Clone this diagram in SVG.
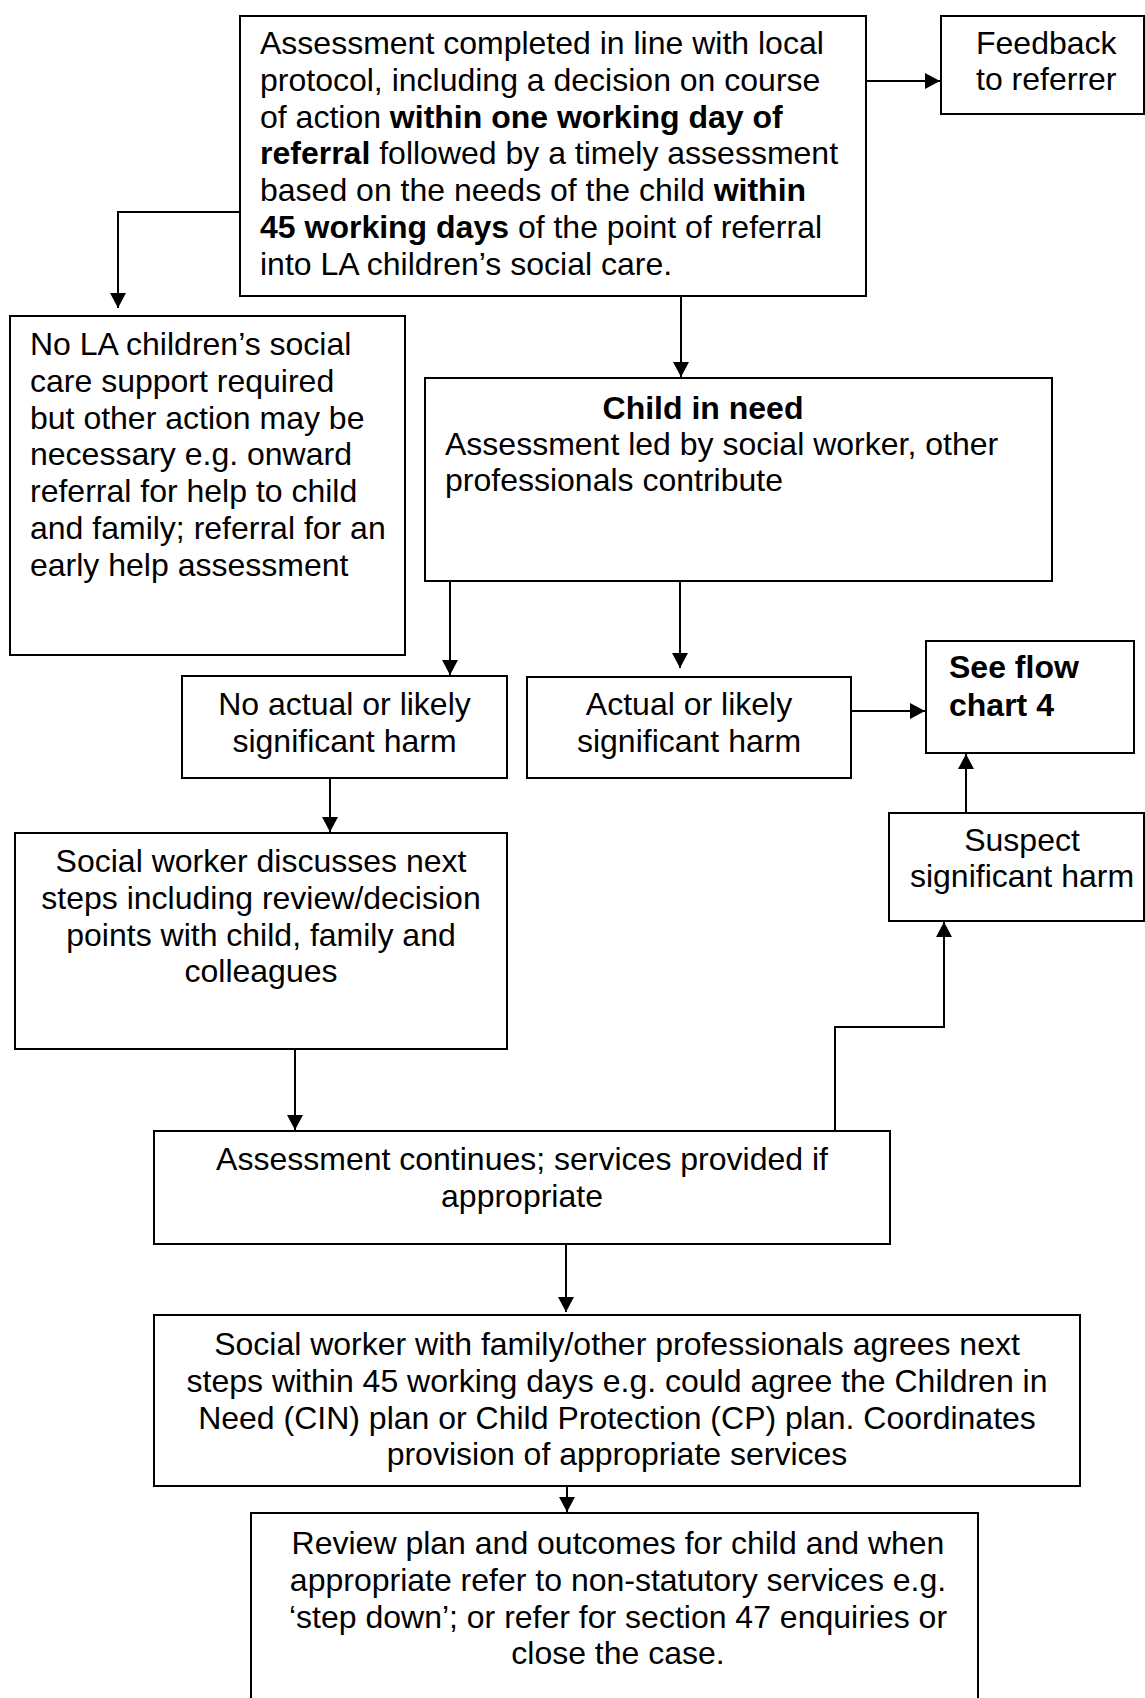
<svg xmlns="http://www.w3.org/2000/svg" width="1145" height="1698" viewBox="0 0 1145 1698">
<defs>
<style>
.box{fill:#fff;stroke:#000;stroke-width:2}
.t{font-family:"Liberation Sans",Arial,sans-serif;font-size:32px;fill:#000}
.c{text-anchor:middle}
.b{font-weight:bold}
.conn{fill:none;stroke:#000;stroke-width:2}
</style>
<marker id="arr" markerUnits="userSpaceOnUse" markerWidth="15" markerHeight="16" refX="15" refY="8" orient="auto">
<path d="M0,0 L15,8 L0,16 z" fill="#000"/>
</marker>
</defs>
<rect width="1145" height="1698" fill="#fff"/>
<g id="connectors">
<path class="conn" d="M866,81 H940" marker-end="url(#arr)"/>
<path class="conn" d="M240,212 H118 V308" marker-end="url(#arr)"/>
<path class="conn" d="M681,296 V377" marker-end="url(#arr)"/>
<path class="conn" d="M450,581 V675" marker-end="url(#arr)"/>
<path class="conn" d="M680,581 V668" marker-end="url(#arr)"/>
<path class="conn" d="M851,711 H925" marker-end="url(#arr)"/>
<path class="conn" d="M966,813 V754" marker-end="url(#arr)"/>
<path class="conn" d="M330,778 V832" marker-end="url(#arr)"/>
<path class="conn" d="M295,1049 V1130" marker-end="url(#arr)"/>
<path class="conn" d="M835,1131 V1027 H944 V922" marker-end="url(#arr)"/>
<path class="conn" d="M566,1244 V1312" marker-end="url(#arr)"/>
<path class="conn" d="M567,1486 V1512" marker-end="url(#arr)"/>
</g>
<g id="node-assessment">
<rect class="box" x="240" y="16" width="626" height="280"/>
<text class="t" x="260" y="54">Assessment completed in line with local</text>
<text class="t" x="260" y="90.8">protocol, including a decision on course</text>
<text class="t" x="260" y="127.6">of action <tspan class="b">within one working day of</tspan></text>
<text class="t" x="260" y="164.4"><tspan class="b">referral</tspan> followed by a timely assessment</text>
<text class="t" x="260" y="201.2">based on the needs of the child <tspan class="b">within</tspan></text>
<text class="t" x="260" y="238"><tspan class="b">45 working days</tspan> of the point of referral</text>
<text class="t" x="260" y="274.8">into LA children’s social care.</text>
</g>
<g id="node-feedback">
<rect class="box" x="941" y="16" width="203" height="98"/>
<text class="t" x="976" y="54">Feedback</text>
<text class="t" x="976" y="90">to referrer</text>
</g>
<g id="node-no-la">
<rect class="box" x="10" y="316" width="395" height="339"/>
<text class="t" x="30" y="355">No LA children’s social</text>
<text class="t" x="30" y="391.8">care support required</text>
<text class="t" x="30" y="428.6">but other action may be</text>
<text class="t" x="30" y="465.4">necessary e.g. onward</text>
<text class="t" x="30" y="502.2">referral for help to child</text>
<text class="t" x="30" y="539">and family; referral for an</text>
<text class="t" x="30" y="575.8">early help assessment</text>
</g>
<g id="node-child-in-need">
<rect class="box" x="425" y="378" width="627" height="203"/>
<text class="t b c" x="703" y="419">Child in need</text>
<text class="t" x="445" y="455">Assessment led by social worker, other</text>
<text class="t" x="445" y="491">professionals contribute</text>
</g>
<g id="node-no-harm">
<rect class="box" x="182" y="676" width="325" height="102"/>
<text class="t c" x="344.5" y="715">No actual or likely</text>
<text class="t c" x="344.5" y="752">significant harm</text>
</g>
<g id="node-harm">
<rect class="box" x="527" y="677" width="324" height="101"/>
<text class="t c" x="689" y="715">Actual or likely</text>
<text class="t c" x="689" y="752">significant harm</text>
</g>
<g id="node-see-flow">
<rect class="box" x="926" y="641" width="208" height="112"/>
<text class="t b" x="949" y="678">See flow</text>
<text class="t b" x="949" y="716">chart 4</text>
</g>
<g id="node-suspect">
<rect class="box" x="889" y="813" width="255" height="108"/>
<text class="t c" x="1022" y="851">Suspect</text>
<text class="t c" x="1022" y="887">significant harm</text>
</g>
<g id="node-social-worker">
<rect class="box" x="15" y="833" width="492" height="216"/>
<text class="t c" x="261" y="872">Social worker discusses next</text>
<text class="t c" x="261" y="908.8">steps including review/decision</text>
<text class="t c" x="261" y="945.6">points with child, family and</text>
<text class="t c" x="261" y="982.4">colleagues</text>
</g>
<g id="node-continues">
<rect class="box" x="154" y="1131" width="736" height="113"/>
<text class="t c" x="522" y="1170">Assessment continues; services provided if</text>
<text class="t c" x="522" y="1206.8">appropriate</text>
</g>
<g id="node-plan">
<rect class="box" x="154" y="1315" width="926" height="171"/>
<text class="t c" x="617" y="1355">Social worker with family/other professionals agrees next</text>
<text class="t c" x="617" y="1391.8">steps within 45 working days e.g. could agree the Children in</text>
<text class="t c" x="617" y="1428.6">Need (CIN) plan or Child Protection (CP) plan. Coordinates</text>
<text class="t c" x="617" y="1465.4">provision of appropriate services</text>
</g>
<g id="node-review">
<rect class="box" x="251" y="1513" width="727" height="200"/>
<text class="t c" x="618" y="1554">Review plan and outcomes for child and when</text>
<text class="t c" x="618" y="1590.8">appropriate refer to non-statutory services e.g.</text>
<text class="t c" x="618" y="1627.6">‘step down’; or refer for section 47 enquiries or</text>
<text class="t c" x="618" y="1664.4">close the case.</text>
</g>
</svg>
